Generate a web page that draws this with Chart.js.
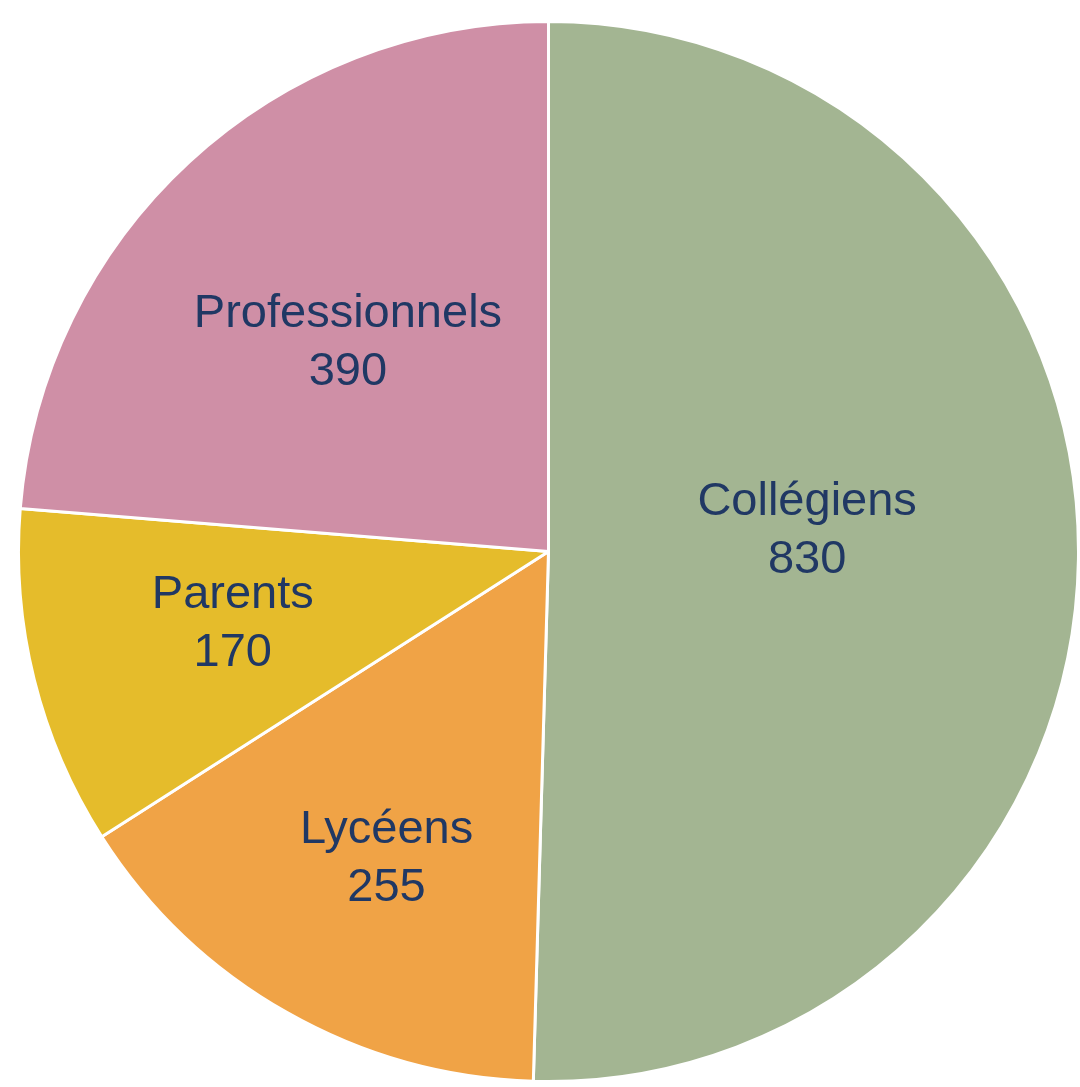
<!DOCTYPE html>
<html>
<head>
<meta charset="utf-8">
<script src="https://cdn.jsdelivr.net/npm/chart.js@4/dist/chart.umd.min.js"></script>
<style>
  html, body { margin: 0; padding: 0; background: #fff; }
  #wrap { width: 1080px; height: 1087px; position: relative; }
</style>
</head>
<body>
<div id="wrap"><canvas id="pieChart"></canvas></div>
<script>
const categories = ["Collégiens", "Lycéens", "Parents", "Professionnels"];
const counts = [830, 255, 170, 390];

const sliceColors = ["#A3B592", "#F0A346", "#E5BC2B", "#CF8FA6"];

// where each label sits: fraction of radius and angle shift (degrees) from slice middle
const labelPlace = [
    { r: 0.49, shift: -6 },
    { r: 0.65, shift: -1.5 },
    { r: 0.61, shift: 1.5 },
    { r: 0.55, shift: -0.8 }
];

const sliceLabels = {
    id: 'sliceLabels',
    afterDatasetsDraw(chart) {
        const ctx = chart.ctx;
        const arcs = chart.getDatasetMeta(0).data;
        ctx.save();
        ctx.font = '47px "Liberation Sans", Arial, sans-serif';
        ctx.fillStyle = '#203864';
        ctx.textAlign = 'center';
        ctx.textBaseline = 'middle';
        arcs.forEach((arc, i) => {
            const p = labelPlace[i];
            const mid = (arc.startAngle + arc.endAngle) / 2 + p.shift * Math.PI / 180;
            const x = arc.x + Math.cos(mid) * arc.outerRadius * p.r;
            const y = arc.y + Math.sin(mid) * arc.outerRadius * p.r + 3;
            ctx.fillText(categories[i], x, y - 29);
            ctx.fillText(String(counts[i]), x, y + 29);
        });
        ctx.restore();
    }
};

new Chart("pieChart", {
    type: "pie",
    data: {
        labels: categories,
        datasets: [{
            data: counts,
            backgroundColor: sliceColors,
            borderColor: "#fff",
            borderWidth: 3
        }]
    },
    options: {
        responsive: true,
        maintainAspectRatio: false,
        animation: false,
        layout: { padding: { left: 17, right: 0, top: 20, bottom: 4 } },
        plugins: {
            legend: { display: false },
            tooltip: { enabled: false }
        }
    },
    plugins: [sliceLabels]
});
</script>
</body>
</html>
